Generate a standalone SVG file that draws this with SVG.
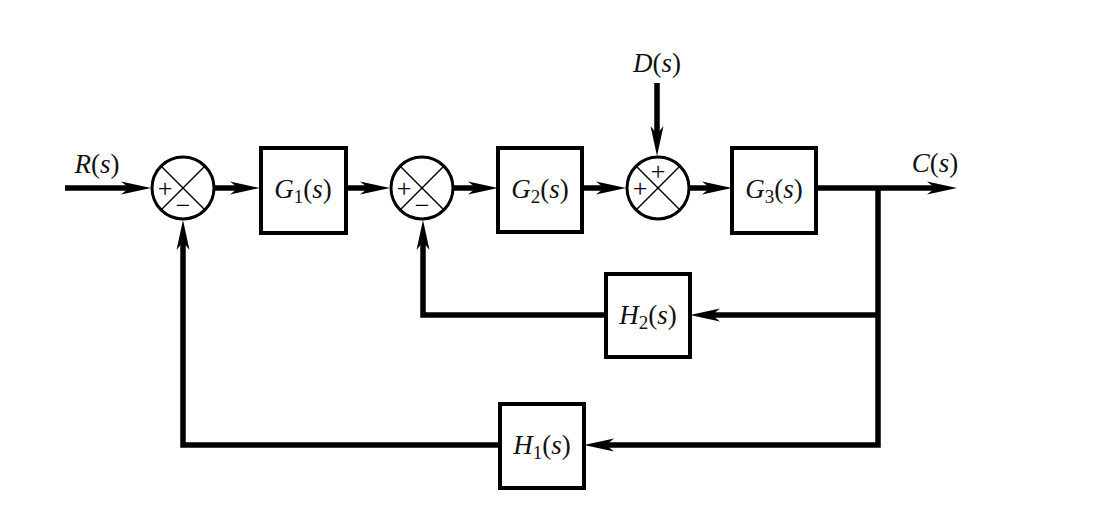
<svg xmlns="http://www.w3.org/2000/svg" width="1118" height="510" viewBox="0 0 1118 510">
<style>
.blk{fill:#fff;stroke:#000;stroke-width:4}
.sum{fill:#fff;stroke:#000;stroke-width:3}
.x{stroke:#000;stroke-width:1.5}
.w{fill:none;stroke:#000;stroke-width:5.5;stroke-linejoin:miter}
.lbl{font-family:"Liberation Serif","Times New Roman",serif;font-size:27px;fill:#111}
.it{font-style:italic}
.sg{font-family:"Liberation Serif","Times New Roman",serif;font-size:26px;fill:#000}
</style>
<defs>
<marker id="ah" markerUnits="userSpaceOnUse" viewBox="0 0 30 16" refX="8" refY="8" markerWidth="30" markerHeight="16" orient="auto">
<path d="M0,1.5 L30,8 L0,14.5 L8,8 Z" fill="#000"/>
</marker>
</defs>
<rect width="1118" height="510" fill="#fff"/>
<g id="connectors">
<path class="w" d="M65,188 H129" marker-end="url(#ah)"/>
<path class="w" d="M214,188 H238" marker-end="url(#ah)"/>
<path class="w" d="M346,188 H368" marker-end="url(#ah)"/>
<path class="w" d="M454,188 H476" marker-end="url(#ah)"/>
<path class="w" d="M582,188 H604" marker-end="url(#ah)"/>
<path class="w" d="M690,188 H710" marker-end="url(#ah)"/>
<path class="w" d="M816,188 H935" marker-end="url(#ah)"/>
<path class="w" d="M657,83 V134" marker-end="url(#ah)"/>
<path class="w" d="M878,188 V445 H606" marker-end="url(#ah)"/>
<path class="w" d="M878,315 H712" marker-end="url(#ah)"/>
<path class="w" d="M605,315 H423 V242" marker-end="url(#ah)"/>
<path class="w" d="M499,445 H183 V242" marker-end="url(#ah)"/>
</g>
<g id="sum1">
<circle class="sum" cx="183" cy="188" r="31"/>
<line class="x" x1="161" y1="166" x2="205" y2="210"/>
<line class="x" x1="205" y1="166" x2="161" y2="210"/>
<text class="sg" x="165" y="197" text-anchor="middle">+</text>
<text class="sg" x="183" y="214" text-anchor="middle">−</text>
</g>
<g id="sum2">
<circle class="sum" cx="422" cy="188" r="31"/>
<line class="x" x1="400" y1="166" x2="444" y2="210"/>
<line class="x" x1="444" y1="166" x2="400" y2="210"/>
<text class="sg" x="404" y="197" text-anchor="middle">+</text>
<text class="sg" x="422" y="214" text-anchor="middle">−</text>
</g>
<g id="sum3">
<circle class="sum" cx="658" cy="188" r="31"/>
<line class="x" x1="636" y1="166" x2="680" y2="210"/>
<line class="x" x1="680" y1="166" x2="636" y2="210"/>
<text class="sg" x="658" y="180" text-anchor="middle">+</text>
<text class="sg" x="640" y="197" text-anchor="middle">+</text>
</g>
<g id="G1">
<rect class="blk" x="261" y="148" width="85" height="85"/>
<text class="lbl" x="303" y="198" text-anchor="middle"><tspan class="it">G</tspan><tspan font-size="19" dy="5">1</tspan><tspan dy="-5">(</tspan><tspan class="it">s</tspan>)</text>
</g>
<g id="G2">
<rect class="blk" x="498" y="148" width="84" height="84"/>
<text class="lbl" x="540" y="198" text-anchor="middle"><tspan class="it">G</tspan><tspan font-size="19" dy="5">2</tspan><tspan dy="-5">(</tspan><tspan class="it">s</tspan>)</text>
</g>
<g id="G3">
<rect class="blk" x="732" y="148" width="84" height="85"/>
<text class="lbl" x="774" y="198" text-anchor="middle"><tspan class="it">G</tspan><tspan font-size="19" dy="5">3</tspan><tspan dy="-5">(</tspan><tspan class="it">s</tspan>)</text>
</g>
<g id="H2">
<rect class="blk" x="606" y="274" width="84" height="83"/>
<text class="lbl" x="648" y="324" text-anchor="middle"><tspan class="it">H</tspan><tspan font-size="19" dy="5">2</tspan><tspan dy="-5">(</tspan><tspan class="it">s</tspan>)</text>
</g>
<g id="H1">
<rect class="blk" x="500" y="404" width="84" height="84"/>
<text class="lbl" x="542" y="454" text-anchor="middle"><tspan class="it">H</tspan><tspan font-size="19" dy="5">1</tspan><tspan dy="-5">(</tspan><tspan class="it">s</tspan>)</text>
</g>
<g id="labels">
<text class="lbl" x="97" y="173" text-anchor="middle"><tspan class="it">R</tspan>(<tspan class="it">s</tspan>)</text>
<text class="lbl" x="657" y="72" text-anchor="middle"><tspan class="it">D</tspan>(<tspan class="it">s</tspan>)</text>
<text class="lbl" x="935" y="172" text-anchor="middle"><tspan class="it">C</tspan>(<tspan class="it">s</tspan>)</text>
</g>
</svg>
